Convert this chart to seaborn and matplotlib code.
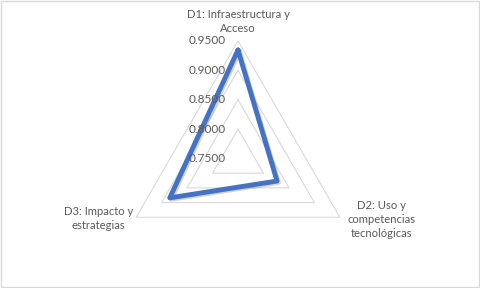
import numpy as np
import pandas as pd
import matplotlib
matplotlib.use("Agg")
import matplotlib.pyplot as plt
import matplotlib.patheffects as pe
from matplotlib.patches import Rectangle
import seaborn as sns

categories = ["D1: Infraestructura y\nAcceso", "D2: Uso y\ncompetencias\ntecnológicas", "D3: Impacto y\nestrategias"]
values = [0.9345, 0.8267, 0.8840]
ring_levels = [0.80, 0.85, 0.90, 0.95]
tick_values = [0.75, 0.80, 0.85, 0.90, 0.95]
tick_labels = ["0.7500", "0.8000", "0.8500", "0.9000", "0.9500"]
r_min, r_max = 0.75, 0.95

sns.set_theme(style="white")
plt.rcParams["font.family"] = ["Lato", "DejaVu Sans"]
text_color = "#595959"
grid_color = "#D9D9D9"
line_color = "#4472C4"
fs = 8.1

fig = plt.figure(figsize=(4.8, 2.88), dpi=100)
fig.patch.set_facecolor("white")
fig.patches.append(Rectangle((0.002, 0.003), 0.996, 0.994, transform=fig.transFigure,
                             fill=False, edgecolor=grid_color, linewidth=1.0))

ax = fig.add_axes([0.2508, 0.0414, 0.49, 0.8167], projection="polar")
ax.set_theta_offset(np.pi / 2)
ax.set_theta_direction(-1)
ax.set_ylim(r_min, r_max)
ax.grid(False)
ax.spines["polar"].set_visible(False)
ax.set_xticks([])
ax.set_yticks([])
ax.set_facecolor("none")

n = len(categories)
theta = np.arange(n) * 2 * np.pi / n
theta_closed = np.append(theta, 2 * np.pi)

# triangular gridlines
for lvl in ring_levels:
    ax.plot(theta_closed, [lvl] * (n + 1), color=grid_color, linewidth=0.8, zorder=1)

# data polygon
df = pd.DataFrame({"theta": theta_closed, "value": values + [values[0]]})
sns.lineplot(data=df, x="theta", y="value", sort=False, estimator=None, ax=ax,
             color=line_color, linewidth=3.5, zorder=3,
             path_effects=[pe.SimpleLineShadow(offset=(1.0, -1.0), shadow_color="gray", alpha=0.35),
                           pe.Normal()])
ax.set_xlabel("")
ax.set_ylabel("")
ax.set_xticks([])
ax.set_yticks([])
ax.set_ylim(r_min, r_max)

# radial tick labels
for v, lab in zip(tick_values, tick_labels):
    ax.annotate(lab, xy=(0, v), xytext=(-12, 0), textcoords="offset pixels",
                ha="right", va="center", fontsize=fs + 0.4, color=text_color)

# category labels
offsets = [(0, 7, "center", "bottom"), (42, -2, "center", "center"), (-38, -1.5, "center", "center")]
for t, lab, (dx, dy, ha, va) in zip(theta, categories, offsets):
    ax.annotate(lab, xy=(t, r_max), xytext=(dx, dy), textcoords="offset pixels",
                ha=ha, va=va, fontsize=fs, color=text_color, linespacing=1.35,
                annotation_clip=False)

fig.savefig("out.png", dpi=100)
